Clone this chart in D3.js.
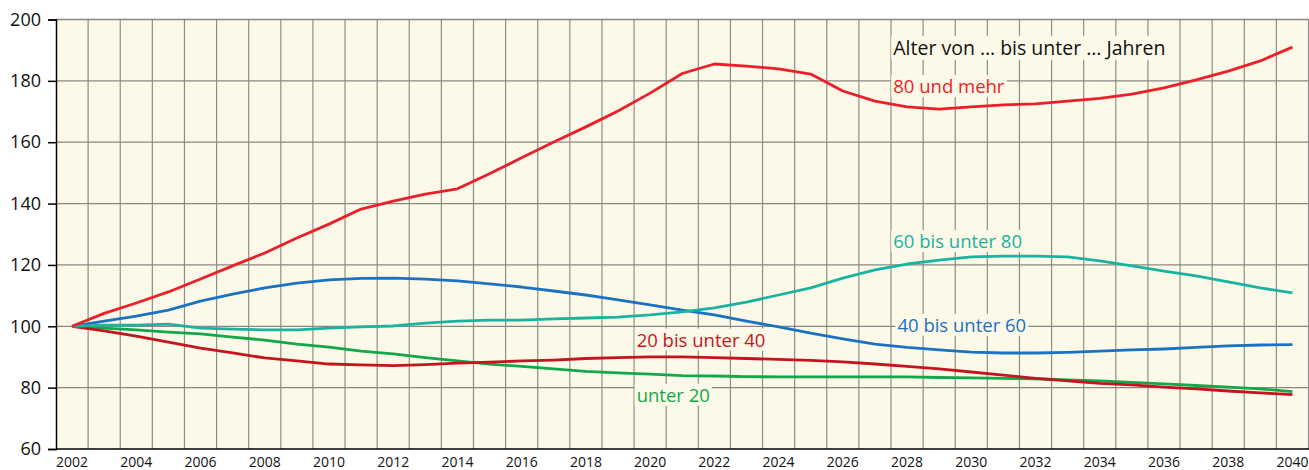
<!DOCTYPE html>
<html>
<head>
<meta charset="utf-8">
<script src="https://cdn.jsdelivr.net/npm/d3@7"></script>
<style>
  body { margin: 0; background: #fff; }
  text { font-family: "Open Sans", "Noto Sans", sans-serif; }
</style>
</head>
<body>
<div id="chart-area"></div>
<script>
// years on the x axis, one band per year
var years = d3.range(2002, 2041);
var yTicks = [60, 80, 100, 120, 140, 160, 180, 200];
var xTickYears = years.filter(function(y) { return y % 2 === 0; });

// index values, 2002 = 100
var age80plus = [100, 104.2, 107.6, 111.2, 115.4, 119.7, 123.9, 128.8, 133.3, 138.2,
  140.8, 143.1, 144.8, 149.7, 154.9, 160.1, 165.0, 170.2, 176.0, 182.4,
  185.5, 184.8, 183.9, 182.2, 176.7, 173.4, 171.5, 170.8, 171.5, 172.2,
  172.5, 173.4, 174.3, 175.7, 177.7, 180.3, 183.2, 186.5, 191.0];
var age60to80 = [100, 100.4, 100.4, 100.7, 99.4, 99.1, 98.8, 98.8, 99.4, 99.8,
  100.1, 101.0, 101.7, 102.0, 102.0, 102.4, 102.7, 103.0, 103.7, 104.7,
  106.0, 107.9, 110.2, 112.5, 115.7, 118.4, 120.3, 121.6, 122.6, 122.9,
  122.9, 122.6, 121.3, 119.7, 118.0, 116.4, 114.5, 112.5, 110.9];
var age40to60 = [100, 101.7, 103.3, 105.3, 108.2, 110.5, 112.5, 114.1, 115.1, 115.6,
  115.7, 115.4, 114.8, 113.8, 112.8, 111.5, 110.2, 108.6, 107.0, 105.3,
  103.7, 101.7, 99.8, 97.8, 95.9, 94.2, 93.1, 92.3, 91.6, 91.3,
  91.3, 91.5, 91.9, 92.3, 92.6, 93.1, 93.6, 93.9, 94.0];
var age20to40 = [100, 98.5, 96.8, 94.8, 92.9, 91.3, 89.7, 88.7, 87.7, 87.4,
  87.2, 87.5, 88.0, 88.3, 88.7, 89.0, 89.5, 89.8, 90.0, 90.0,
  89.8, 89.5, 89.2, 88.9, 88.4, 87.7, 86.9, 86.1, 85.1, 84.1,
  83.0, 82.2, 81.4, 80.9, 80.2, 79.6, 78.9, 78.3, 77.7];
var ageUnder20 = [100, 99.4, 98.8, 98.1, 97.5, 96.5, 95.5, 94.2, 93.2, 91.9,
  91.0, 89.8, 88.7, 87.7, 86.9, 86.1, 85.3, 84.8, 84.4, 83.9,
  83.8, 83.6, 83.5, 83.5, 83.5, 83.5, 83.5, 83.3, 83.2, 83.0,
  82.9, 82.5, 82.2, 81.7, 81.2, 80.7, 80.2, 79.6, 78.7];

var series = [
  { name: "unter 20", values: ageUnder20, color: "#12a84a" },
  { name: "20 bis unter 40", values: age20to40, color: "#c4141f" },
  { name: "40 bis unter 60", values: age40to60, color: "#1a72c2" },
  { name: "60 bis unter 80", values: age60to80, color: "#19b3a0" },
  { name: "80 und mehr", values: age80plus, color: "#ea1f29" }
];

// label positions: year and value where the text starts (baseline)
var labels = [
  { text: "Alter von \u2026 bis unter \u2026 Jahren", year: 2027.57, value: 188.5, color: "#111", size: 19.5 },
  { text: "80 und mehr", year: 2027.57, value: 176.0, color: "#ea1f29", size: 18.5 },
  { text: "60 bis unter 80", year: 2027.57, value: 125.5, color: "#19b3a0", size: 18.5 },
  { text: "40 bis unter 60", year: 2027.7, value: 98.2, color: "#1a72c2", size: 18.5 },
  { text: "20 bis unter 40", year: 2019.58, value: 93.4, color: "#c4141f", size: 18.5 },
  { text: "unter 20", year: 2019.58, value: 75.4, color: "#12a84a", size: 18.5 }
];

var width = 1309, height = 470;
var svg = d3.select("#chart-area").append("svg")
  .attr("width", width)
  .attr("height", height);

var x = d3.scaleBand().domain(years).range([56, 1308.5]);
var y = d3.scaleLinear().domain([60, 200]).range([449, 19.5]);
var xc = function(yr) { return x(yr) + x.bandwidth() / 2; };
// continuous year -> pixel, for label placement
var xl = d3.scaleLinear().domain([2002, 2040]).range([xc(2002), xc(2040)]);

// background
svg.append("rect")
  .attr("x", 56).attr("y", 19.5)
  .attr("width", 1308.5 - 56).attr("height", 449 - 19.5)
  .attr("fill", "#fdf9e8");

// vertical gridlines at band edges
svg.append("g").selectAll("line")
  .data(years.slice(1).concat([null]))
  .enter().append("line")
    .attr("x1", function(d) { return d === null ? 1308.5 : x(d); })
    .attr("x2", function(d) { return d === null ? 1308.5 : x(d); })
    .attr("y1", 19.5).attr("y2", 449)
    .attr("stroke", "#8f8d88").attr("stroke-width", 1.2);

// horizontal gridlines
svg.append("g").selectAll("line")
  .data(yTicks.slice(1))
  .enter().append("line")
    .attr("x1", 56).attr("x2", 1308.5)
    .attr("y1", function(d) { return y(d); })
    .attr("y2", function(d) { return y(d); })
    .attr("stroke", "#8a8884").attr("stroke-width", 1.3);

// y axis
var yAxis = svg.append("g")
  .attr("transform", "translate(56,0)")
  .call(d3.axisLeft(y).tickValues(yTicks).tickSize(8).tickPadding(7));
yAxis.select(".domain").attr("stroke", "#000").attr("stroke-width", 1.5);
yAxis.selectAll(".tick line").attr("stroke", "#000").attr("stroke-width", 1.5);
yAxis.selectAll(".tick text")
  .attr("font-size", 18).attr("fill", "#111")
  .style("font-family", "'Open Sans', sans-serif");

// x axis
var xAxis = svg.append("g")
  .attr("transform", "translate(0,449)")
  .call(d3.axisBottom(x).tickValues(xTickYears).tickSize(0).tickPadding(8));
xAxis.select(".domain").remove();
xAxis.selectAll(".tick text")
  .attr("font-size", 14).attr("fill", "#111")
  .style("font-family", "'Open Sans', sans-serif");
svg.append("line")
  .attr("x1", 56).attr("x2", width)
  .attr("y1", 449).attr("y2", 449)
  .attr("stroke", "#000").attr("stroke-width", 1.5);

// lines
var line = d3.line()
  .x(function(d, i) { return xc(years[i]); })
  .y(function(d) { return y(d); });

svg.append("g").selectAll("path")
  .data(series)
  .enter().append("path")
    .attr("d", function(d) { return line(d.values); })
    .attr("fill", "none")
    .attr("stroke", function(d) { return d.color; })
    .attr("stroke-width", 2.8)
    .attr("stroke-linejoin", "round");

// labels with cream backing
var lg = svg.append("g").selectAll("g")
  .data(labels)
  .enter().append("g");

lg.append("text")
  .attr("x", function(d) { return xl(d.year); })
  .attr("y", function(d) { return y(d.value); })
  .attr("font-size", function(d) { return d.size; })
  .attr("fill", function(d) { return d.color; })
  .text(function(d) { return d.text; });

lg.each(function() {
  var g = d3.select(this);
  var bb = g.select("text").node().getBBox();
  g.insert("rect", "text")
    .attr("x", bb.x - 2).attr("y", bb.y + 2)
    .attr("width", bb.width + 4).attr("height", bb.height - 3)
    .attr("fill", "#fdf9e8");
});
</script>
</body>
</html>
